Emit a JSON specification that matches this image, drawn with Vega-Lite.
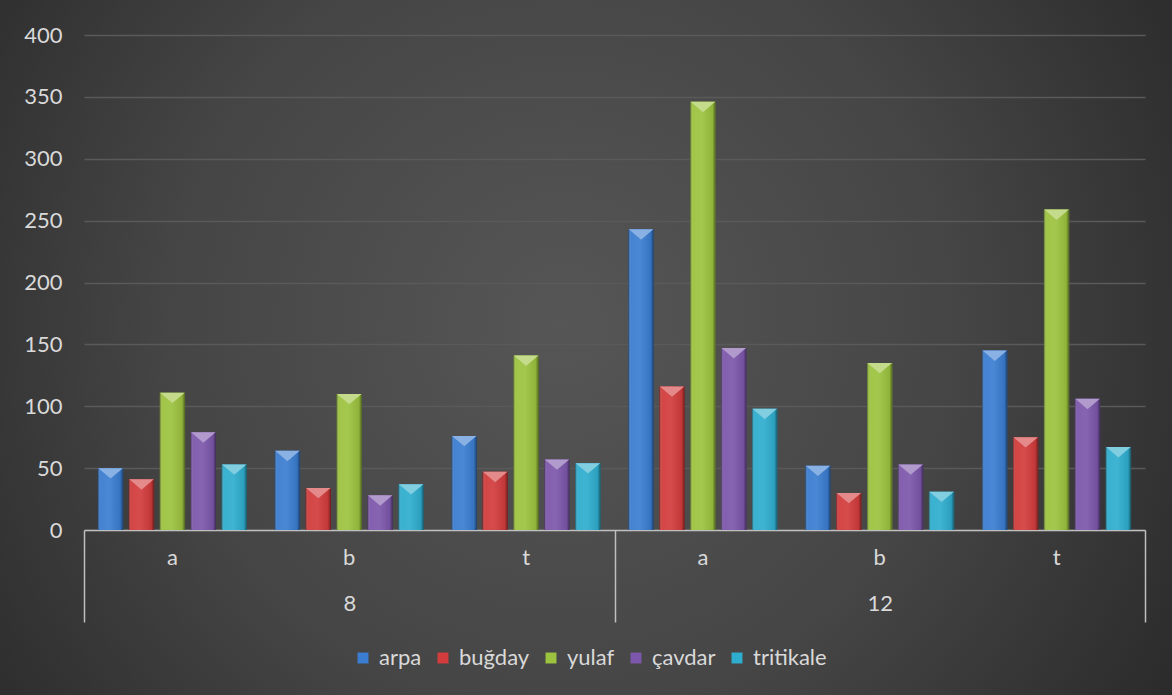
{
  "$schema": "https://vega.github.io/schema/vega-lite/v6.json",
  "width": 1172,
  "height": 695,
  "autosize": {"type": "none"},
  "padding": 0,
  "background": "#2e2e2e",
  "config": {
    "font": "Lato",
    "view": {
      "stroke": null,
      "fill": {
        "gradient": "radial",
        "x1": 0.48, "y1": 0.48, "r1": 0,
        "x2": 0.48, "y2": 0.48, "r2": 0.75,
        "stops": [
          {"offset": 0, "color": "#565656"},
          {"offset": 0.45, "color": "#454545"},
          {"offset": 1, "color": "#1d1d1d"}
        ]
      }
    },
    "axis": {"labelColor": "#d9d9d9", "labelFontSize": 22, "labelFont": "Lato", "title": null}
  },
  "datasets": {
    "harvest": [
      {"grp": "8", "cat": "8 a", "species": "arpa", "value": 50},
      {"grp": "8", "cat": "8 a", "species": "buğday", "value": 41},
      {"grp": "8", "cat": "8 a", "species": "yulaf", "value": 111},
      {"grp": "8", "cat": "8 a", "species": "çavdar", "value": 79},
      {"grp": "8", "cat": "8 a", "species": "tritikale", "value": 53},
      {"grp": "8", "cat": "8 b", "species": "arpa", "value": 64},
      {"grp": "8", "cat": "8 b", "species": "buğday", "value": 34},
      {"grp": "8", "cat": "8 b", "species": "yulaf", "value": 110},
      {"grp": "8", "cat": "8 b", "species": "çavdar", "value": 28},
      {"grp": "8", "cat": "8 b", "species": "tritikale", "value": 37},
      {"grp": "8", "cat": "8 t", "species": "arpa", "value": 76},
      {"grp": "8", "cat": "8 t", "species": "buğday", "value": 47},
      {"grp": "8", "cat": "8 t", "species": "yulaf", "value": 141},
      {"grp": "8", "cat": "8 t", "species": "çavdar", "value": 57},
      {"grp": "8", "cat": "8 t", "species": "tritikale", "value": 54},
      {"grp": "12", "cat": "12 a", "species": "arpa", "value": 243},
      {"grp": "12", "cat": "12 a", "species": "buğday", "value": 116},
      {"grp": "12", "cat": "12 a", "species": "yulaf", "value": 346},
      {"grp": "12", "cat": "12 a", "species": "çavdar", "value": 147},
      {"grp": "12", "cat": "12 a", "species": "tritikale", "value": 98},
      {"grp": "12", "cat": "12 b", "species": "arpa", "value": 52},
      {"grp": "12", "cat": "12 b", "species": "buğday", "value": 30},
      {"grp": "12", "cat": "12 b", "species": "yulaf", "value": 135},
      {"grp": "12", "cat": "12 b", "species": "çavdar", "value": 53},
      {"grp": "12", "cat": "12 b", "species": "tritikale", "value": 31},
      {"grp": "12", "cat": "12 t", "species": "arpa", "value": 145},
      {"grp": "12", "cat": "12 t", "species": "buğday", "value": 75},
      {"grp": "12", "cat": "12 t", "species": "yulaf", "value": 259},
      {"grp": "12", "cat": "12 t", "species": "çavdar", "value": 106},
      {"grp": "12", "cat": "12 t", "species": "tritikale", "value": 67}
    ]
  },
  "resolve": {"scale": {"x": "independent"}, "axis": {"x": "independent"}},
  "layer": [
    {
      "data": {"name": "harvest"},
      "encoding": {
        "x": {
          "field": "cat",
          "type": "nominal",
          "sort": ["8 a", "8 b", "8 t", "12 a", "12 b", "12 t"],
          "scale": {"range": [84, 1145], "paddingInner": 0, "paddingOuter": 0},
          "axis": {
            "orient": "bottom",
            "offset": -165,
            "labelExpr": "split(datum.value, ' ')[1]",
            "labelAngle": 0,
            "labelPadding": 17,
            "ticks": false,
            "domain": true,
            "domainColor": "#bfbfbf",
            "domainWidth": 1.5,
            "grid": false
          }
        },
        "xOffset": {
          "field": "species",
          "type": "nominal",
          "sort": ["arpa", "buğday", "yulaf", "çavdar", "tritikale"],
          "scale": {"paddingInner": 0.18, "paddingOuter": 0.45}
        },
        "y": {
          "field": "value",
          "type": "quantitative",
          "scale": {"domain": [0, 400], "range": [530, 35], "nice": false, "zero": true},
          "axis": {
            "orient": "left",
            "offset": -70,
            "values": [0, 50, 100, 150, 200, 250, 300, 350, 400],
            "ticks": false,
            "domain": false,
            "labelPadding": 8,
            "grid": true,
            "gridColor": "#5a5a5a",
            "gridWidth": 1.5
          }
        }
      },
      "layer": [
        {
          "mark": {"type": "bar"},
          "encoding": {
            "color": {
              "field": "species",
              "type": "nominal",
              "scale": {
                "domain": ["arpa", "buğday", "yulaf", "çavdar", "tritikale"],
                "range": ["#3b7dd0", "#d23c3c", "#9cc33f", "#7d57ab", "#2fadce"]
              },
              "legend": {
                "orient": "none",
                "legendX": 352,
                "legendY": 647,
                "direction": "horizontal",
                "title": null,
                "symbolType": "square",
                "symbolSize": 120,
                "symbolStrokeWidth": 0,
                "labelFontSize": 22,
                "labelColor": "#d9d9d9",
                "labelFont": "Lato",
                "labelOffset": 5,
                "columnPadding": 10
              }
            }
          }
        },
        {
          "mark": {
            "type": "bar",
            "color": {
              "gradient": "linear",
              "x1": 0, "y1": 0, "x2": 1, "y2": 0,
              "stops": [
                {"offset": 0, "color": "rgba(0,0,0,0.45)"},
                {"offset": 0.1, "color": "rgba(255,255,255,0.05)"},
                {"offset": 0.45, "color": "rgba(255,255,255,0.08)"},
                {"offset": 0.88, "color": "rgba(0,0,0,0.08)"},
                {"offset": 1, "color": "rgba(0,0,0,0.5)"}
              ]
            }
          }
        },
        {
          "mark": {
            "type": "point",
            "filled": true,
            "opacity": 1,
            "size": 600,
            "shape": "M-1,0L1,0L0,0.85Z"
          },
          "encoding": {
            "color": {"field": "species", "type": "nominal", "legend": null}
          }
        },
        {
          "mark": {
            "type": "point",
            "filled": true,
            "color": "#ffffff",
            "opacity": 0.4,
            "size": 600,
            "shape": "M-1,0L1,0L0,0.85Z"
          }
        }
      ]
    },
    {
      "data": {"name": "harvest"},
      "mark": {"type": "point", "opacity": 0},
      "encoding": {
        "x": {
          "field": "grp",
          "type": "nominal",
          "sort": ["8", "12"],
          "scale": {"range": [84, 1145], "paddingInner": 0, "paddingOuter": 0},
          "axis": {
            "orient": "bottom",
            "offset": -165,
            "labelAngle": 0,
            "tickBand": "extent",
            "ticks": true,
            "tickSize": 92,
            "tickColor": "#bfbfbf",
            "tickWidth": 1.5,
            "labelPadding": -29,
            "domain": false,
            "grid": false
          }
        },
        "y": {"field": "value", "type": "quantitative"}
      }
    }
  ]
}
